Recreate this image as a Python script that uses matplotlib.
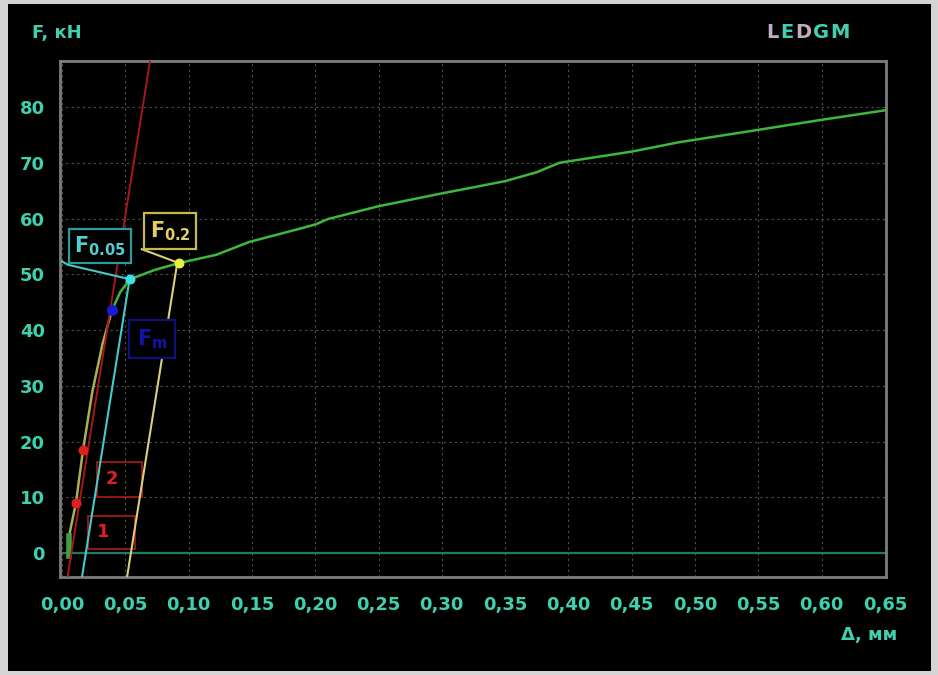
import matplotlib
matplotlib.use("Agg")
import matplotlib.pyplot as plt
from matplotlib.patches import Rectangle
from matplotlib.offsetbox import TextArea, HPacker, AnchoredOffsetbox
import numpy as np

plt.rcParams['font.family'] = ['DejaVu Sans']
plt.rcParams['mathtext.fontset'] = 'dejavusans'

# load curve: displacement (mm) vs force (kN)
disp_elastic = [0.0055, 0.0055, 0.011, 0.0166, 0.024, 0.032, 0.0395]
force_elastic = [-0.5, 3.0, 9.0, 18.5, 29.0, 37.5, 43.6]
disp_plastic = [0.0395, 0.046, 0.0537, 0.0735, 0.0924, 0.122, 0.148, 0.19, 0.201,
                0.21, 0.25, 0.30, 0.35, 0.375, 0.393, 0.45, 0.488, 0.55, 0.60, 0.65]
force_plastic = [43.6, 46.8, 49.1, 50.8, 52.0, 53.5, 55.8, 58.3, 59.0,
                 59.9, 62.2, 64.5, 66.7, 68.3, 70.0, 72.0, 73.7, 75.9, 77.7, 79.4]

# elastic slope fit and offset lines
k_slope = 1421.0        # kN/mm
x0_fit = 0.0074         # mm, zero-force intercept of the fit line
offset_005 = 0.0114
offset_02 = 0.047

fit_points = [(0.011, 9.0), (0.0166, 18.5)]
p_m = (0.0395, 43.6)
p_005 = (0.0537, 49.1)
p_02 = (0.0924, 52.0)

xticks = [round(0.05 * i, 2) for i in range(14)]
yticks = [0, 10, 20, 30, 40, 50, 60, 70, 80]
xlabels = [f"{v:.2f}".replace('.', ',') for v in xticks]

teal = "#3fd0b0"
bg = "#000000"

fig = plt.figure(figsize=(9.38, 6.75), dpi=100, facecolor="#d4d4d4")
fig.patches.append(Rectangle((8 / 938, 4 / 675), 923 / 938, 667 / 675,
                             transform=fig.transFigure, facecolor=bg,
                             edgecolor='none', zorder=-10))

ax = fig.add_axes([60 / 938, 98 / 675, 826 / 938, 516 / 675])
ax.set_zorder(1)
ax.set_facecolor(bg)
ax.set_xlim(-0.0016, 0.6509)
ax.set_ylim(-4.3, 88.25)

ax.set_xticks(xticks)
ax.set_xticklabels(xlabels)
ax.set_yticks(yticks)
ax.tick_params(length=0, colors=teal, labelsize=13)
ax.tick_params(axis='x', pad=14)
ax.tick_params(axis='y', pad=11)
for lab in ax.get_xticklabels() + ax.get_yticklabels():
    lab.set_fontweight('bold')
ax.grid(True, color="#505050", lw=0.8, linestyle=(0, (2, 3)))
ax.set_axisbelow(True)
for sp in ax.spines.values():
    sp.set_color("#7c7c7c")
    sp.set_linewidth(2)

ax.axhline(0, color="#1f7a66", lw=1.6, zorder=2)

# straight lines sharing the elastic slope
F_line = np.array([-4.3, 88.25])
ax.plot(x0_fit + F_line / k_slope, F_line, color="#a81818", lw=1.4, zorder=4)
F_c = np.array([-4.3, p_005[1]])
ax.plot(x0_fit + offset_005 + F_c / k_slope, F_c, color="#48c8c8", lw=1.5, zorder=3)
F_y = np.array([-4.3, p_02[1]])
ax.plot(x0_fit + offset_02 + F_y / k_slope, F_y, color="#d8d07a", lw=1.5, zorder=3)

# the measured curve
ax.plot(disp_elastic, force_elastic, color="#a8b050", lw=1.8, zorder=3)
ax.plot(disp_elastic[:2], force_elastic[:2], color="#40a040", lw=4, zorder=3)
ax.plot(disp_plastic, force_plastic, color="#3cb83c", lw=1.8, zorder=5)

# ranges used for the slope fit
for (x_a, x_b, f_a, f_b, num) in [(0.0205, 0.0577, 0.8, 6.6, "1"),
                                   (0.0276, 0.0632, 10.0, 16.4, "2")]:
    ax.add_patch(Rectangle((x_a, f_a), x_b - x_a, f_b - f_a, fill=False,
                           edgecolor="#a01818", lw=1.3, zorder=2))
    ax.text(x_a + 0.012, (f_a + f_b) / 2, num, color="#e02020", fontsize=13,
            fontweight='bold', ha='center', va='center', zorder=6)

ax.scatter(*zip(*fit_points), s=38, color="#e02020", zorder=7)
ax.scatter(*p_m, s=50, color="#1a1ad0", zorder=7)
ax.scatter(*p_005, s=38, color="#40e0e0", zorder=7)
ax.scatter(*p_02, s=38, color="#e8f040", zorder=7)

# leader lines and labels
ax.plot([0.0, 0.0047, p_005[0]], [52.3, 51.7, p_005[1]], color="#48c8c8", lw=1.5, zorder=4)
ax.plot([0.063, p_02[0]], [54.5, p_02[1]], color="#d8d07a", lw=1.5, zorder=4)

ax.text(0.030, 55.0, r"$\mathbf{F}_{\mathbf{0.05}}$", color="#50d0d0", fontsize=15,
        ha='center', va='center', zorder=6,
        bbox=dict(boxstyle='square,pad=0.25', facecolor=bg, edgecolor="#2e9a9a", lw=1.6))
ax.text(0.0853, 57.7, r"$\mathbf{F}_{\mathbf{0.2}}$", color="#e0d060", fontsize=15,
        ha='center', va='center', zorder=6,
        bbox=dict(boxstyle='square,pad=0.3', facecolor=bg, edgecolor="#c8b850", lw=1.6))
ax.text(0.0711, 38.4, r"$\mathbf{F}_{\mathbf{m}}$", color="#1414a8", fontsize=15,
        ha='center', va='center', zorder=6,
        bbox=dict(boxstyle='square,pad=0.35', facecolor=bg, edgecolor="#10107a", lw=1.6))

fig.text(32 / 938, 1 - 33 / 675, "F, кН", color=teal, fontsize=13,
         fontweight='bold', ha='left', va='center')
fig.text(897 / 938, 1 - 635 / 675, "Δ, мм", color=teal, fontsize=13,
         fontweight='bold', ha='right', va='center')

letters = [("L", "#b8b0c8"), ("E", teal), ("D", "#c4aebc"), ("G", teal), ("M", teal)]
logo = HPacker(children=[TextArea(ch, textprops=dict(color=c, fontsize=14, fontweight='bold'))
                         for ch, c in letters], pad=0, sep=1)
fig.add_artist(AnchoredOffsetbox(loc='center', child=logo, frameon=False, pad=0, borderpad=0,
                                 bbox_to_anchor=(808 / 938, 1 - 33 / 675),
                                 bbox_transform=fig.transFigure))

fig.savefig("out.png", dpi=100, facecolor=fig.get_facecolor())
